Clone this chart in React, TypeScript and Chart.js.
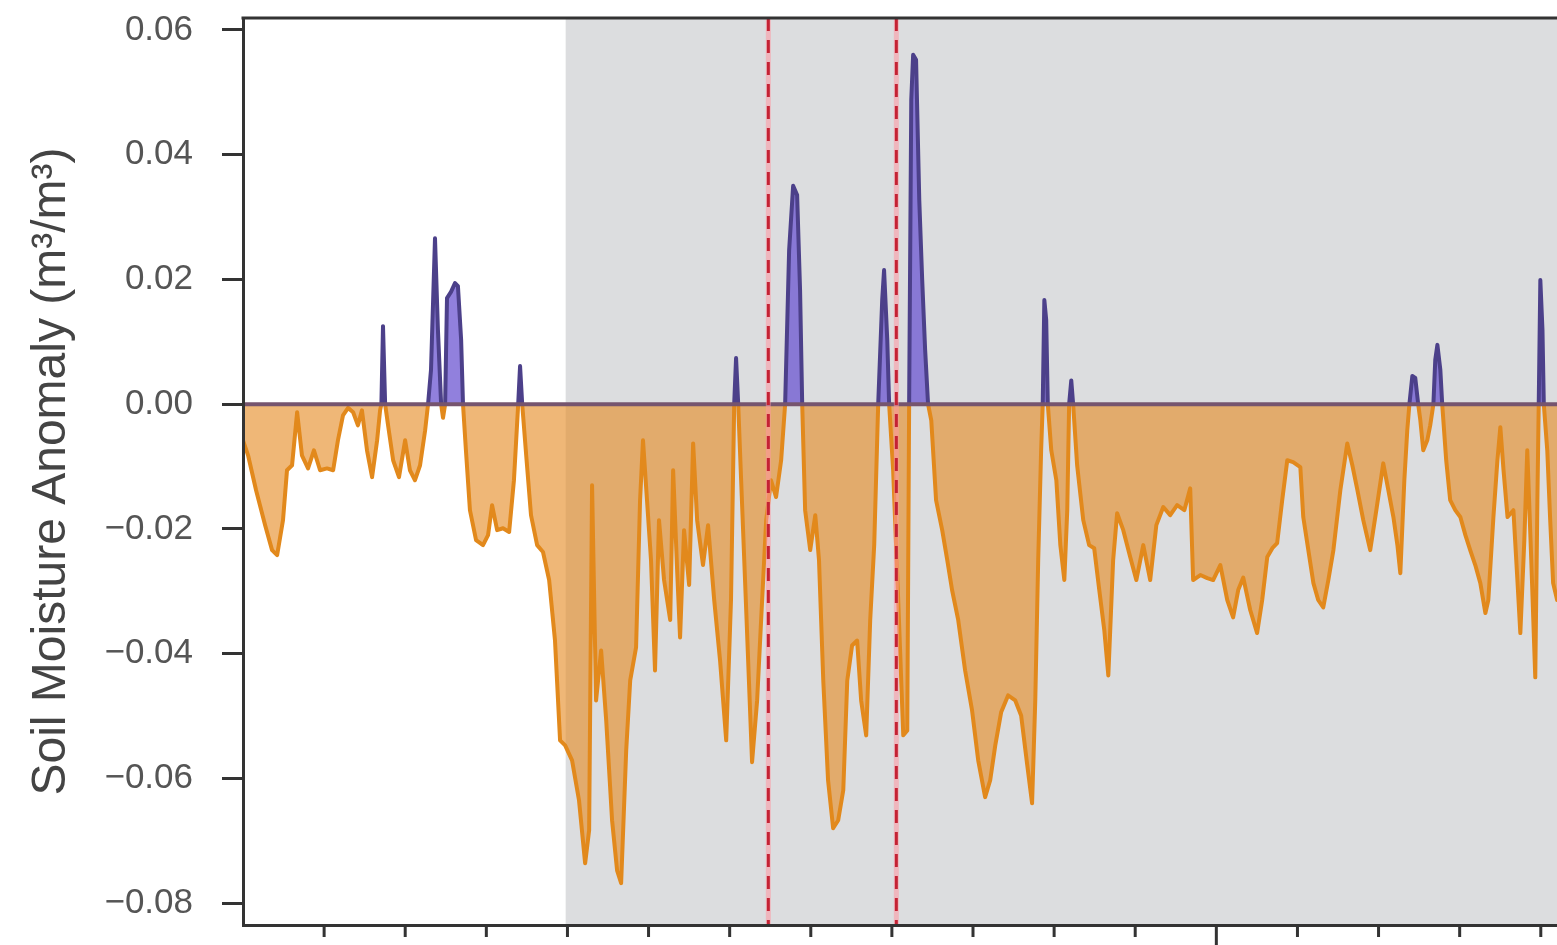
import React, { useEffect, useRef } from "react";
import { Chart, registerables } from "chart.js";

Chart.register(...registerables);

// x: days since start of record, y: soil moisture anomaly (m³/m³)
const days: number[] = [
  0, 1.9, 4.9, 8.3, 10.9, 12.8, 15.0, 16.5, 18.4, 20.3,
  22.1, 24.4, 26.6, 28.9, 31.5, 33.8, 35.6, 37.5, 39.4, 41.3,
  43.1, 44.6, 46.5, 48.4, 50.3, 51.4, 51.9, 52.5, 53.3, 54.4,
  56.3, 58.5, 60.8, 62.6, 64.5, 66.4, 68.3, 69.4, 70.5, 72.0,
  73.1, 74.3, 75.0, 75.8, 76.5, 78.0, 79.5, 80.6, 81.8, 82.5,
  83.6, 85.1, 87.4, 90.0, 91.9, 93.4, 95.3, 97.5, 99.8, 101.6,
  103.2, 103.9, 104.7, 106.2, 108.0, 110.3, 112.5, 114.8, 117.0, 118.9,
  120.8, 123.4, 126.0, 128.3, 129.8, 130.9, 132.4, 134.3, 136.2, 138.4,
  140.3, 141.8, 143.7, 145.2, 147.4, 148.9, 150.0, 151.5, 153.0, 154.5,
  156.0, 157.9, 160.2, 161.3, 162.8, 163.9, 165.4, 167.3, 168.8, 170.3,
  172.5, 174.4, 176.7, 178.9, 181.2, 183.0, 184.2, 184.9, 185.7, 186.8,
  188.7, 190.9, 192.8, 194.3, 196.2, 198.0, 199.9, 201.8, 203.3, 204.8,
  206.3, 207.8, 208.9, 209.7, 210.8, 212.7, 214.6, 216.0, 217.6, 219.4,
  221.3, 223.2, 225.1, 226.6, 228.4, 230.3, 231.8, 233.7, 235.2, 236.7,
  238.2, 239.7, 240.4, 241.6, 242.3, 243.8, 245.7, 247.6, 249.1, 249.8,
  250.6, 251.3, 252.4, 253.6, 254.7, 255.8, 256.9, 258.1, 259.9, 262.2,
  264.1, 265.9, 268.2, 270.8, 273.4, 275.7, 278.3, 280.2, 282.1, 284.3,
  286.9, 289.6, 291.8, 294.1, 295.9, 297.1, 298.2, 299.3, 299.9, 300.5,
  301.2, 301.8, 303.1, 305.0, 306.5, 308.0, 309.1, 309.8, 310.6, 311.3,
  312.8, 315.1, 317.3, 319.2, 321.1, 323.0, 324.5, 326.3, 327.8, 330.1,
  332.7, 335.0, 337.6, 340.2, 342.5, 345.1, 347.7, 350.3, 353.0, 355.2,
  356.3, 359.0, 361.6, 363.8, 366.5, 369.1, 371.3, 373.2, 375.1, 377.7,
  380.3, 382.2, 384.1, 386.0, 387.8, 389.7, 391.6, 393.8, 396.5, 397.6,
  399.5, 401.4, 403.2, 405.1, 407.0, 408.9, 411.5, 414.1, 416.0, 417.9,
  420.1, 422.7, 425.0, 427.6, 429.5, 431.4, 432.9, 434.0, 435.5, 436.6,
  437.4, 438.5, 439.6, 440.7, 441.5, 442.6, 444.1, 445.2, 446.4, 447.1,
  447.9, 449.0, 449.7, 451.2, 452.7, 454.6, 456.5, 458.4, 460.2, 462.1,
  464.0, 465.9, 467.0, 468.9, 470.4, 471.5, 472.7, 474.2, 476.4, 477.9,
  479.0, 480.5, 481.6, 483.1, 484.6, 485.4, 485.9, 486.5, 487.3, 487.8,
  489.1, 490.2, 491.3, 492.8, 494.7,
];

const anomaly: number[] = [
  -0.0058, -0.0082, -0.0138, -0.0194, -0.0234, -0.0242, -0.0186, -0.0106, -0.0098, -0.0013,
  -0.0082, -0.0103, -0.0074, -0.0106, -0.0103, -0.0106, -0.0058, -0.0018, -0.0006, -0.0013,
  -0.0034, -0.0010, -0.0074, -0.0117, -0.0058, -0.0010, 0, 0.0125, 0, -0.0034,
  -0.0090, -0.0117, -0.0058, -0.0106, -0.0122, -0.0098, -0.0042, 0, 0.0055, 0.0266,
  0.0119, 0, -0.0022, 0, 0.0170, 0.0180, 0.0194, 0.0189, 0.0103, 0,
  -0.0074, -0.0170, -0.0218, -0.0226, -0.0210, -0.0162, -0.0202, -0.0199, -0.0205, -0.0122,
  0, 0.0061, 0, -0.0082, -0.0178, -0.0226, -0.0237, -0.0282, -0.0379, -0.0539,
  -0.0547, -0.0571, -0.0635, -0.0736, -0.0683, -0.0130, -0.0475, -0.0395, -0.0507, -0.0667,
  -0.0748, -0.0768, -0.0555, -0.0443, -0.0390, -0.0154, -0.0058, -0.0154, -0.0250, -0.0427,
  -0.0186, -0.0282, -0.0346, -0.0106, -0.0266, -0.0374, -0.0202, -0.0290, -0.0063, -0.0186,
  -0.0258, -0.0194, -0.0314, -0.0411, -0.0539, -0.0314, 0, 0.0074, 0, -0.0122,
  -0.0330, -0.0574, -0.0475, -0.0346, -0.0186, -0.0122, -0.0149, -0.0090, 0, 0.0247,
  0.0350, 0.0335, 0.0183, 0, -0.0170, -0.0234, -0.0178, -0.0250, -0.0443, -0.0603,
  -0.0680, -0.0667, -0.0619, -0.0443, -0.0387, -0.0379, -0.0475, -0.0531, -0.0346, -0.0226,
  0, 0.0167, 0.0215, 0.0103, 0, -0.0106, -0.0314, -0.0531, -0.0523, 0,
  0.0488, 0.0560, 0.0552, 0.0327, 0.0199, 0.0087, 0, -0.0026, -0.0154, -0.0202,
  -0.0250, -0.0298, -0.0346, -0.0427, -0.0491, -0.0571, -0.0630, -0.0603, -0.0547, -0.0494,
  -0.0467, -0.0475, -0.0499, -0.0579, -0.0640, -0.0475, -0.0250, -0.0074, 0, 0.0167,
  0.0135, 0, -0.0074, -0.0122, -0.0226, -0.0282, -0.0170, 0, 0.0038, 0,
  -0.0098, -0.0186, -0.0226, -0.0231, -0.0298, -0.0363, -0.0435, -0.0250, -0.0175, -0.0202,
  -0.0245, -0.0282, -0.0226, -0.0282, -0.0194, -0.0165, -0.0178, -0.0162, -0.0170, -0.0135,
  -0.0282, -0.0274, -0.0279, -0.0282, -0.0258, -0.0314, -0.0342, -0.0298, -0.0278, -0.0330,
  -0.0367, -0.0314, -0.0245, -0.0231, -0.0223, -0.0154, -0.0090, -0.0093, -0.0101, -0.0181,
  -0.0234, -0.0287, -0.0314, -0.0326, -0.0282, -0.0234, -0.0138, -0.0063, -0.0098, -0.0138,
  -0.0186, -0.0234, -0.0170, -0.0095, -0.0138, -0.0181, -0.0226, -0.0271, -0.0122, -0.0042,
  0, 0.0045, 0.0042, 0, -0.0026, -0.0074, -0.0058, -0.0034, 0, 0.0071,
  0.0095, 0.0055, 0, -0.0090, -0.0154, -0.0170, -0.0181, -0.0210, -0.0234, -0.0258,
  -0.0287, -0.0335, -0.0314, -0.0181, -0.0090, -0.0037, -0.0106, -0.0181, -0.0170, -0.0282,
  -0.0367, -0.0218, -0.0074, -0.0250, -0.0438, -0.0154, 0, 0.0199, 0.0119, 0,
  -0.0074, -0.0186, -0.0287, -0.0314, -0.0298,
];

const yTickValues: number[] = [-0.08, -0.06, -0.04, -0.02, 0, 0.02, 0.04, 0.06];
const monthTickDays: number[] = [
  30.42, 60.83, 91.25, 121.67, 152.08, 182.5, 212.92, 243.33,
  273.75, 304.17, 334.58, 365, 395.42, 425.83, 456.25, 486.67,
];
const yearTickDays: number[] = [365];
const shadeStartDay = 121;
const eventDays: number[] = [197, 245];

const Y_MIN = -0.0835;
const Y_MAX = 0.0619;
const X_MIN = 0;
const X_MAX = 516;

const FONT = "'Liberation Sans', Arial, Helvetica, sans-serif";
const ORANGE_LINE = "rgb(226,137,28)";
const ORANGE_FILL = "rgba(230,142,42,0.64)";
const PURPLE_LINE = "rgb(76,64,138)";
const PURPLE_FILL = "rgba(108,86,210,0.75)";

const decorPlugin = {
  id: "decor",
  beforeDatasetsDraw(chart: any) {
    const { ctx, chartArea: a, scales } = chart;
    const xs = scales.x.getPixelForValue(shadeStartDay);
    ctx.save();
    ctx.fillStyle = "#dcdddf";
    ctx.fillRect(xs, a.top, a.right - xs, a.bottom - a.top);
    ctx.restore();
  },
  afterDatasetsDraw(chart: any) {
    const { ctx, chartArea: a, scales } = chart;
    const y0 = scales.y.getPixelForValue(0);
    ctx.save();
    ctx.strokeStyle = "rgb(118,84,110)";
    ctx.lineWidth = 4;
    ctx.beginPath();
    ctx.moveTo(a.left, y0);
    ctx.lineTo(a.right, y0);
    ctx.stroke();
    for (const d of eventDays) {
      const px = scales.x.getPixelForValue(d);
      ctx.setLineDash([]);
      ctx.strokeStyle = "rgba(255,150,160,0.55)";
      ctx.lineWidth = 5;
      ctx.beginPath();
      ctx.moveTo(px, a.top);
      ctx.lineTo(px, a.bottom);
      ctx.stroke();
      ctx.setLineDash([13, 9]);
      ctx.strokeStyle = "#c42234";
      ctx.lineWidth = 3;
      ctx.beginPath();
      ctx.moveTo(px, a.top);
      ctx.lineTo(px, a.bottom);
      ctx.stroke();
    }
    ctx.restore();
  },
  afterDraw(chart: any) {
    const { ctx, chartArea: a, scales } = chart;
    ctx.save();
    ctx.strokeStyle = "#333";
    ctx.lineWidth = 3;
    ctx.beginPath();
    ctx.moveTo(a.left - 1.5, a.top);
    ctx.lineTo(a.right, a.top);
    ctx.stroke();
    for (const d of monthTickDays) {
      const px = scales.x.getPixelForValue(d);
      const len = yearTickDays.includes(d) ? 22 : 12;
      ctx.beginPath();
      ctx.moveTo(px, a.bottom);
      ctx.lineTo(px, a.bottom + len);
      ctx.stroke();
    }
    ctx.restore();
  },
};

export default function App() {
  const ref = useRef<HTMLCanvasElement>(null);

  useEffect(() => {
    const n = Math.min(days.length, anomaly.length);
    const points = [];
    for (let i = 0; i < n; i++) points.push({ x: days[i], y: anomaly[i] });

    const chart = new Chart(ref.current as HTMLCanvasElement, {
      type: "line",
      data: {
        datasets: [
          {
            data: points,
            borderColor: ORANGE_LINE,
            borderWidth: 4,
            borderJoinStyle: "round",
            pointRadius: 0,
            tension: 0,
            fill: { target: "origin", above: PURPLE_FILL, below: ORANGE_FILL },
            segment: {
              borderColor: (c: any) =>
                c.p0.parsed.y > 0 || c.p1.parsed.y > 0 ? PURPLE_LINE : ORANGE_LINE,
            },
          } as any,
        ],
      },
      options: {
        responsive: true,
        maintainAspectRatio: false,
        animation: false,
        layout: { padding: { top: 18, left: 0, right: 0, bottom: 0 } },
        plugins: { legend: { display: false }, tooltip: { enabled: false } },
        scales: {
          x: {
            type: "linear",
            min: X_MIN,
            max: X_MAX,
            ticks: { display: false },
            grid: { display: false },
            border: { display: true, color: "#333", width: 3, z: 1 },
            afterFit: (s: any) => {
              s.height = 35;
              s.paddingLeft = 0;
              s.paddingRight = 0;
            },
          },
          y: {
            type: "linear",
            min: Y_MIN,
            max: Y_MAX,
            afterBuildTicks: (s: any) => {
              s.ticks = yTickValues.map((v) => ({ value: v }));
            },
            ticks: {
              color: "#555",
              font: { family: FONT, size: 35 },
              padding: 29,
              callback: (v: any) => {
                const num = Number(v);
                const s = Math.abs(num).toFixed(2);
                return num < -1e-9 ? "\u2212" + s : s;
              },
            },
            grid: {
              drawOnChartArea: false,
              drawTicks: true,
              tickLength: 21,
              tickWidth: 3,
              tickColor: "#333",
            },
            border: { display: true, color: "#333", width: 3, z: 1 },
            title: {
              display: true,
              text: "Soil Moisture Anomaly (m\u00b3/m\u00b3)",
              color: "#444",
              font: { family: FONT, size: 48 },
              padding: { top: 23, bottom: 0 },
            },
            afterFit: (s: any) => {
              s.width = 243;
              s.paddingTop = 0;
              s.paddingBottom = 0;
            },
          },
        },
      },
      plugins: [decorPlugin],
    });
    return () => chart.destroy();
  }, []);

  return (
    <div
      style={{
        position: "absolute",
        left: 0,
        top: 0,
        width: 1557,
        height: 945,
        overflow: "hidden",
        background: "#fff",
      }}
    >
      <div style={{ position: "relative", width: 1619, height: 960 }}>
        <canvas ref={ref} />
      </div>
    </div>
  );
}
